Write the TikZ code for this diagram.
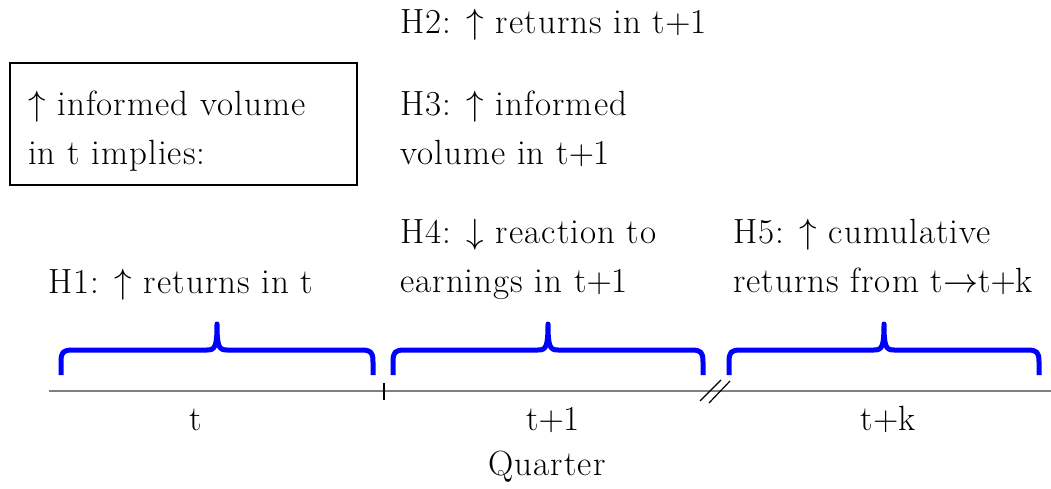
\RequirePackage{fix-cm}
\documentclass[tikz,border=0pt]{standalone}
\usepackage{amsmath}
\usepackage{fontspec}
\setmainfont{Latin Modern Roman}[LetterSpace=3]
\begin{document}
\begin{tikzpicture}[x=1pt,y=-1pt,
  lbl/.style={anchor=base west,align=left,inner sep=0pt,font=\fontsize{35}{49}\selectfont},
  axlbl/.style={anchor=base,inner sep=0pt,font=\fontsize{35}{49}\selectfont},
  bracestyle/.style={draw=blue,line width=5pt,line join=round},
  boxstyle/.style={draw=black,line width=1.3pt}]
\useasboundingbox (0,0) rectangle (1051,489);
% box
\draw[boxstyle] (10,63) rectangle (357,185);
\node[lbl] (box) at (28,165) {$\uparrow$ informed volume\\in t implies:};
% hypotheses
\node[lbl] (h2) at (400,34) {H2: $\uparrow$ returns in t$+$1};
\node[lbl] (h3) at (400,165) {H3: $\uparrow$ informed\\volume in t$+$1};
\node[lbl] (h4) at (400,292) {H4: $\downarrow$ reaction to\\earnings in t$+$1};
\node[lbl] (h5) at (733,292) {H5: $\uparrow$ cumulative\\returns from t$\rightarrow$t$+$k};
\node[lbl] (h1) at (48,293) {H1: $\uparrow$ returns in t};
% axis
\coordinate (a0) at (49,391);
\coordinate (a1) at (1051,391);
\draw[gray,line width=2pt] (a0) -- (a1);
\draw[black,line width=1.2pt] (384,383) -- (384,400);
\draw[black,line width=1.2pt] (700,401) -- (721,380);
\draw[black,line width=1.2pt] (709,403) -- (730,381);
% braces
\foreach \l/\r in {61/373,393/703,729/1039}{
  \pgfmathsetmacro{\c}{(\l+\r)/2}
  \draw[bracestyle] (\l,375) -- (\l,362) .. controls (\l,352) and (\l+2,350) .. (\l+12,350)
    -- (\c-10,350) .. controls (\c-2,350) and (\c,347) .. (\c,324)
    .. controls (\c,347) and (\c+2,350) .. (\c+10,350)
    -- (\r-12,350) .. controls (\r-2,350) and (\r,352) .. (\r,362) -- (\r,375);
}
% axis labels
\node[axlbl] (lt) at (196,430) {t};
\node[axlbl] (lt1) at (553,430) {t$+$1};
\node[axlbl] (ltk) at (888,430) {t$+$k};
\node[axlbl] (q) at (547,475) {Quarter};
\end{tikzpicture}
\end{document}
